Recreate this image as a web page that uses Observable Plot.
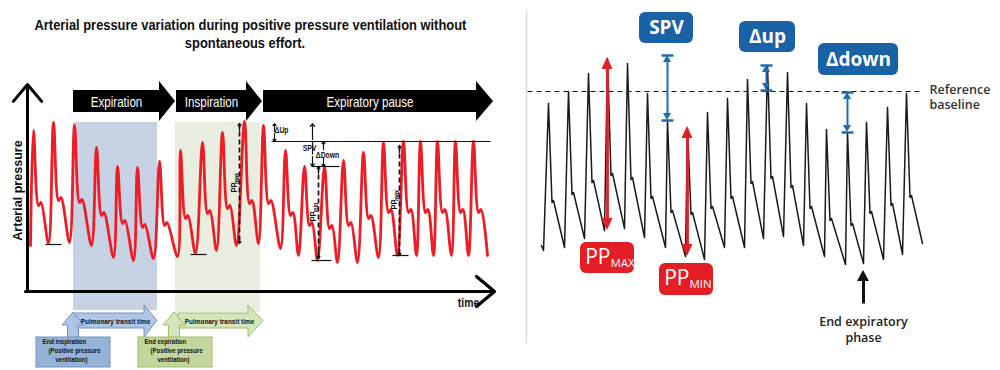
<!DOCTYPE html>
<html><head><meta charset="utf-8">
<script src="https://cdn.jsdelivr.net/npm/d3@7"></script>
<script src="https://cdn.jsdelivr.net/npm/@observablehq/plot@0.6"></script>
<style>
body{margin:0;background:#fff;}
#wrap{position:relative;width:1000px;height:370px;overflow:hidden;background:#fff;}
#chart{position:absolute;left:0;top:0;}
#title{position:absolute;left:0;top:16px;width:490px;text-align:center;font:bold 15px/18px "Liberation Sans",Arial,sans-serif;color:#111;white-space:nowrap;transform-origin:245px 0;}
#title span{display:inline-block;}
</style></head><body>
<div id="wrap"><div id="chart"></div>
<div id="title"><span id="t1">Arterial pressure variation during positive pressure ventilation without</span><br><span>spontaneous effort.</span></div></div>
<script>
// ---------- LEFT PANEL (time units, pressure units) ----------
const leftPeakT  = [33,53,74,96,117,137,159,180,202,222,244,263,285,304,324,343,363,383,403,420,437,455,473];
const leftPeakP  = [240,248,245,223,204,203,209,220,228,238,249,245,220,204,204,210,218,228,229,229,229,229,229];
const leftNotchP = [165,170,168,155,147,143,145,152,157,162,167,167,155,145,142,145,152,158,158,158,158,158,158];
const leftTroughT = [30,48,69,91,113,133,153,177,195,216,236,258,280,298,317,337,357,378,397,416,433,451,468,487];
const leftTroughP = [125,127,128,125,113,110,112,114,117,120,125,127,122,115,110,108,108,113,115,115,115,115,115,115];

const phaseLabels = ["Expiration","Inspiration","Expiratory pause"];
const phaseStart  = [73,176,263];
const phaseHead   = [159,246,476];
const phaseTip    = [175,262,493];

const shadeLabels = ["blue","green"];
const shadeStart = [73,175];
const shadeEnd   = [157,260];
const shadeTop   = [248,248];
const shadeBottom= [60,58];

const troughMarkT1 = [45,190,311,392];
const troughMarkT2 = [61,206,331,408];
const troughMarkP  = [126,116,110,115];

const ppT   = [239,318,399];
const ppTop = [247,204,225];
const ppBot = [127,112,115];
const ppSub = ["max","min","max"];

const refLineT = [271,490]; const refLineP = 229;
const lowLineT = [311,339]; const lowLineP = 204;

const transitLabels = ["Pulmonary transit time","Pulmonary transit time"];
const transitStart = [74,178];
const transitHead  = [144,248];
const transitTip   = [157,263];
const boxLine1 = ["End inspiration","End expiration"];
const boxLine2 = ["(Positive pressure","(Positive pressure"];
const boxLine3 = ["ventilation)","ventilation)"];
const boxX1 = [36,138], boxX2 = [110,212];
const upArrowT = [73,174];
const boxFill = ["#95b3d7","#c3d69b"], boxStroke = ["#7394c4","#9fbd6a"];
const arrowFill = ["#a7c0e2","#d2e2b4"];

// ---------- RIGHT PANEL ----------
const rightPeakT  = [548,568,588,607,627,647,667,687,707,727,747,767,787,806,826,847,866,887,906];
const rightPeakP  = [267,279,297,312,307,277,250,242,258,272,291,305,298,267,241,238,248,263,277];
const rightNotchP = [168,176,188,195,191,172,158,156,162,172,187,192,183,162,150,145,157,165,173];
const rightTroughT = [543,564,584,604,624,644,665,685,704,724,744,763,783,803,824,845,863,883,902,922];
const rightTroughP = [120,123,132,140,142,133,123,114,111,123,123,132,134,125,114,106,107,111,116,127];
const referenceP = 279;

const blueLabels = ["SPV","Δup","Δdown"];
const blueBoxX1 = [639,739,818], blueBoxX2 = [693,795,898];
const blueBoxTop = [358,349,327], blueBoxBot = [327,318,295];
const blueT = [667,766,847];
const blueTop = [315,305,278];
const blueBot = [250,280,238];

const redSub = ["MAX","MIN"];
const redT = [607,687];
const redTop = [313,244];
const redBot = [140,114];
const redBoxX1 = [580,659], redBoxX2 = [634,713];
const redBoxTop = [128,107], redBoxBot = [97,75];

const endExpT = 863, endExpFrom = 67, endExpTo = 100;

// ---------- build tables ----------
const leftTrace = [];
leftPeakT.forEach((t,i)=>{
  leftTrace.push({t:leftTroughT[i], p:leftTroughP[i]});
  leftTrace.push({t, p:leftPeakP[i]});
  leftTrace.push({t:t+5, p:leftNotchP[i]});
  leftTrace.push({t:t+7.5, p:leftNotchP[i]+3});
});
leftTrace.push({t:leftTroughT.at(-1), p:leftTroughP.at(-1)});

const rightTrace = [{t:541,p:125}];
rightPeakT.forEach((t,i)=>{
  rightTrace.push({t:rightTroughT[i], p:rightTroughP[i]});
  rightTrace.push({t, p:rightPeakP[i]});
  rightTrace.push({t:t+3.5, p:rightNotchP[i]});
  rightTrace.push({t:t+5, p:rightNotchP[i]+2});
});
rightTrace.push({t:rightTroughT.at(-1), p:rightTroughP.at(-1)});

const phasePts = [];
phaseLabels.forEach((l,i)=>{
  phasePts.push({id:l,t:phaseStart[i],lo:258,hi:280});
  phasePts.push({id:l,t:phaseHead[i],lo:258,hi:280});
  phasePts.push({id:l,t:phaseHead[i],lo:249,hi:289});
  phasePts.push({id:l,t:phaseTip[i],lo:269,hi:269});
});
const phaseText = phaseLabels.map((l,i)=>({l,t:(phaseStart[i]+phaseHead[i])/2,p:268}));

const shades = shadeLabels.map((c,i)=>({c,t1:shadeStart[i],t2:shadeEnd[i],p1:shadeBottom[i],p2:shadeTop[i]}));

const transitPts = [];
transitLabels.forEach((l,i)=>{
  const id=i;
  transitPts.push({id,t:transitStart[i],lo:42,hi:57});
  transitPts.push({id,t:transitHead[i],lo:42,hi:57});
  transitPts.push({id,t:transitHead[i],lo:33,hi:65});
  transitPts.push({id,t:transitTip[i],lo:49.5,hi:49.5});
});
const upPts = [];
upArrowT.forEach((t,i)=>{
  upPts.push({id:i,p:33,l:t-5.5,r:t+5.5});
  upPts.push({id:i,p:45,l:t-5.5,r:t+5.5});
  upPts.push({id:i,p:45,l:t-11,r:t+11});
  upPts.push({id:i,p:58,l:t,r:t});
});
const boxes = boxX1.map((x,i)=>({i,x1:x,x2:boxX2[i],p1:3,p2:33}));
const boxText = [];
boxX1.forEach((x,i)=>{
  boxText.push({s:boxLine1[i],t:x+6,p:28.5});
  boxText.push({s:boxLine2[i],t:x+12,p:19.5});
  boxText.push({s:boxLine3[i],t:x+19,p:10.5});
});

const ppLinks = ppT.map((t,i)=>({t,top:ppTop[i],bot:ppBot[i]}));
const ppHeads = ppLinks.flatMap(d=>[{t:d.t,from:d.top-7,to:d.top},{t:d.t,from:d.bot+7,to:d.bot}]);
const ppLabelPP = ppT.map((t,i)=>({t:t-5.5,p:(ppTop[i]+ppBot[i])/2-4}));
const ppLabelSub = ppT.map((t,i)=>({s:ppSub[i],t:t-3,p:(ppTop[i]+ppBot[i])/2+5}));

const troughMarks = troughMarkT1.map((t,i)=>({t1:t,t2:troughMarkT2[i],p:troughMarkP[i]}));

const smallArrows = [
  {t:274,from:239,to:247},{t:274,from:237,to:229},   // ΔUp
  {t:312,from:231,to:247},{t:312,from:214,to:204},   // SPV
  {t:323,from:221,to:229},{t:323,from:212,to:204}    // ΔDown
];
const smallLines = [{t:312,from:229,to:216}];
const smallText = [
  {s:"ΔUp",t:281,p:240,a:"start"},
  {s:"SPV",t:309,p:222,a:"end"},
  {s:"ΔDown",t:327,p:215,a:"start"}
];

const blueBoxes = blueLabels.map((l,i)=>({l,x1:blueBoxX1[i],x2:blueBoxX2[i],p1:blueBoxBot[i],p2:blueBoxTop[i]}));
const blueMeas = blueT.map((t,i)=>({t,top:blueTop[i],bot:blueBot[i]}));
const blueTicks = blueMeas.flatMap(d=>[{t1:d.t-6,t2:d.t+6,p:d.top},{t1:d.t-6,t2:d.t+6,p:d.bot}]);
const redMeas = redT.map((t,i)=>({t,top:redTop[i],bot:redBot[i]}));
const redBoxes = redSub.map((s,i)=>({s,x1:redBoxX1[i],x2:redBoxX2[i],p1:redBoxBot[i],p2:redBoxTop[i],c:(redBoxX1[i]+redBoxX2[i])/2,pm:(redBoxTop[i]+redBoxBot[i])/2}));

function heads(items, len, hw){
  const out=[];
  items.forEach((d,i)=>{
    out.push({id:i+"a",p:d.top-len,l:d.t-hw,r:d.t+hw},{id:i+"a",p:d.top,l:d.t,r:d.t});
    out.push({id:i+"b",p:d.bot+len,l:d.t-hw,r:d.t+hw},{id:i+"b",p:d.bot,l:d.t,r:d.t});
  });
  return out;
}
const redHeads = heads(redMeas,12,5.5);
const blueHeads = heads(blueMeas,7,4);
const endHead = [{id:0,p:endExpTo-11,l:endExpT-6,r:endExpT+6},{id:0,p:endExpTo,l:endExpT,r:endExpT}];

const narrow = '"Liberation Sans",Arial,sans-serif';
const sans = '"Open Sans","Noto Sans",sans-serif';

const chart = Plot.plot({
  width:1000, height:370, margin:0,
  x:{domain:[0,1000], axis:null},
  y:{domain:[0,370], axis:null},
  style:{background:"transparent", overflow:"visible"},
  marks:[
    Plot.rect(shades,{x1:"t1",x2:"t2",y1:"p1",y2:"p2",fill:d=>d.c==="blue"?"#c7d3e5":"#e9eee0"}),
    Plot.line(leftTrace,{x:"t",y:"p",stroke:"#ee1c24",strokeWidth:2.8,curve:"catmull-rom"}),
    Plot.link([{t1:refLineT[0],t2:refLineT[1],p:refLineP},{t1:lowLineT[0],t2:lowLineT[1],p:lowLineP}],{x1:"t1",x2:"t2",y1:"p",y2:"p",stroke:"#111",strokeWidth:1.2}),
    Plot.link(troughMarks,{x1:"t1",x2:"t2",y1:"p",y2:"p",stroke:"#111",strokeWidth:1.2}),
    Plot.link(ppLinks,{x1:"t",x2:"t",y1:"top",y2:"bot",stroke:"#111",strokeWidth:1.7,strokeDasharray:"5,3"}),
    Plot.arrow(ppHeads,{x1:"t",x2:"t",y1:"from",y2:"to",stroke:"#111",strokeWidth:1.3,headLength:5,headAngle:70}),
    Plot.text(ppLabelPP,{x:"t",y:"p",text:()=>"PP",rotate:-90,fontFamily:narrow,fontWeight:"bold",fontSize:9.5,fill:"#111",className:"narrow"}),
    Plot.text(ppLabelSub,{x:"t",y:"p",text:"s",rotate:-90,fontFamily:narrow,fontWeight:"bold",fontSize:7,fill:"#111",className:"narrow"}),
    Plot.arrow(smallArrows,{x1:"t",x2:"t",y1:"from",y2:"to",stroke:"#111",strokeWidth:1.2,headLength:4.5,headAngle:70}),
    Plot.link(smallLines,{x1:"t",x2:"t",y1:"from",y2:"to",stroke:"#111",strokeWidth:1.2}),
    Plot.text(smallText,{x:"t",y:"p",text:"s",textAnchor:"a",fontFamily:narrow,fontWeight:"bold",fontSize:8.5,fill:"#111",className:"narrow"}),
    Plot.areaY(phasePts,{x:"t",y1:"lo",y2:"hi",z:"id",fill:"#000",curve:"linear"}),
    Plot.text(phaseText,{x:"t",y:"p",text:"l",fill:"#fff",fontFamily:narrow,fontSize:14.5,className:"narrow"}),
    Plot.arrow([{x1:27,y1:79,x2:27,y2:286}],{x1:"x1",y1:"y1",x2:"x2",y2:"y2",stroke:"#000",strokeWidth:3,headLength:11,headAngle:80}),
    Plot.arrow([{x1:25,y1:79,x2:494,y2:79}],{x1:"x1",y1:"y1",x2:"x2",y2:"y2",stroke:"#000",strokeWidth:3.2,headLength:11,headAngle:80}),
    Plot.text([{s:"Arterial pressure",t:17,p:180}],{x:"t",y:"p",text:"s",rotate:-90,fontFamily:narrow,fontWeight:"bold",fontSize:13.5,fill:"#111",className:"narrow2"}),
    Plot.text([{s:"time",t:468,p:68}],{x:"t",y:"p",text:"s",fontFamily:narrow,fontWeight:"bold",fontSize:13,fill:"#111",className:"narrow"}),
    Plot.areaY(transitPts,{x:"t",y1:"lo",y2:"hi",z:"id",fill:d=>arrowFill[d.id],stroke:d=>boxStroke[d.id],strokeWidth:1,fillOpacity:0.9,curve:"linear"}),
    Plot.areaX(upPts,{y:"p",x1:"l",x2:"r",z:"id",fill:d=>arrowFill[d.id],stroke:d=>boxStroke[d.id],strokeWidth:1,fillOpacity:0.9,curve:"linear"}),
    Plot.text(transitLabels.map((s,i)=>({s,t:(transitStart[i]+transitHead[i])/2+6,p:49})),{x:"t",y:"p",text:"s",fontFamily:narrow,fontWeight:"bold",fontSize:8,fill:"#111",className:"narrow"}),
    Plot.rect(boxes,{x1:"x1",x2:"x2",y1:"p1",y2:"p2",fill:d=>boxFill[d.i],stroke:d=>boxStroke[d.i],strokeWidth:1}),
    Plot.text(boxText,{x:"t",y:"p",text:"s",textAnchor:"start",fontFamily:narrow,fontWeight:"bold",fontSize:7.5,fill:"#111",className:"narrow"}),

    // ---------- right panel ----------
    Plot.link([{t:526,p1:360,p2:27}],{x1:"t",x2:"t",y1:"p1",y2:"p2",stroke:"#dcdcdc",strokeWidth:1.5}),
    Plot.link([{t1:527,t2:923,p:referenceP}],{x1:"t1",x2:"t2",y1:"p",y2:"p",stroke:"#111",strokeWidth:1.2,strokeDasharray:"5,4"}),
    Plot.text([{s:"Reference\nbaseline",p:274}],{x:()=>929,y:"p",text:"s",textAnchor:"start",lineHeight:1.2,fontFamily:sans,fontSize:12.5,fontWeight:600,fill:"#333"}),
    Plot.line(rightTrace,{x:"t",y:"p",stroke:"#1a1a1a",strokeWidth:1.5,curve:"linear"}),
    Plot.link(redMeas,{x1:"t",x2:"t",y1:d=>d.top-8,y2:d=>d.bot+8,stroke:"#e31e24",strokeWidth:2.8}),
    Plot.areaX(redHeads,{y:"p",x1:"l",x2:"r",z:"id",fill:"#e31e24",curve:"linear"}),
    Plot.rect(redBoxes,{x1:"x1",x2:"x2",y1:"p1",y2:"p2",fill:"#e31e24",rx:6}),
    Plot.text(redBoxes,{x:"c",y:"pm",dx:3,dy:-1,text:()=>"PP",textAnchor:"end",fontFamily:sans,fontSize:21,fill:"#fff"}),
    Plot.text(redBoxes,{x:"c",y:"pm",dx:3,dy:5,text:"s",textAnchor:"start",fontFamily:sans,fontSize:11.5,fill:"#fff"}),
    Plot.link(blueMeas,{x1:"t",x2:"t",y1:d=>d.top-4,y2:d=>d.bot+4,stroke:"#1f6cb3",strokeWidth:2}),
    Plot.areaX(blueHeads,{y:"p",x1:"l",x2:"r",z:"id",fill:"#1f6cb3",curve:"linear"}),
    Plot.link(blueTicks,{x1:"t1",x2:"t2",y1:"p",y2:"p",stroke:"#1f6cb3",strokeWidth:2.5}),
    Plot.rect(blueBoxes,{x1:"x1",x2:"x2",y1:"p1",y2:"p2",fill:"#1a62a6",rx:6}),
    Plot.text(blueBoxes,{x:d=>(d.x1+d.x2)/2,y:d=>(d.p1+d.p2)/2,text:"l",fill:"#fff",fontFamily:sans,fontSize:19,fontWeight:"bold"}),
    Plot.link([{t:endExpT,from:endExpFrom,to:endExpTo-9}],{x1:"t",x2:"t",y1:"from",y2:"to",stroke:"#111",strokeWidth:3}),
    Plot.areaX(endHead,{y:"p",x1:"l",x2:"r",z:"id",fill:"#111",curve:"linear"}),
    Plot.text([{s:"End expiratory\nphase",p:42}],{x:()=>endExpT,y:"p",text:"s",lineHeight:1.32,fontFamily:sans,fontSize:12.5,fontWeight:600,fill:"#222"})
  ]
});
document.getElementById("chart").appendChild(chart);

function condense(sel, k){
  d3.select(chart).selectAll(sel).each(function(){
    const el=this;
    const targets = el.querySelectorAll("tspan").length ? el.querySelectorAll("tspan") : [el];
    targets.forEach(n=>{
      const L=n.getComputedTextLength();
      if(L>0){ n.setAttribute("textLength", (L*k).toFixed(1)); n.setAttribute("lengthAdjust","spacingAndGlyphs"); }
    });
  });
}
condense(".narrow text",0.8);
condense(".narrow2 text",0.93);
const w = document.getElementById("t1").getBoundingClientRect().width;
document.getElementById("title").style.transform = `scaleX(${(432/w).toFixed(3)})`;
</script>
</body></html>
